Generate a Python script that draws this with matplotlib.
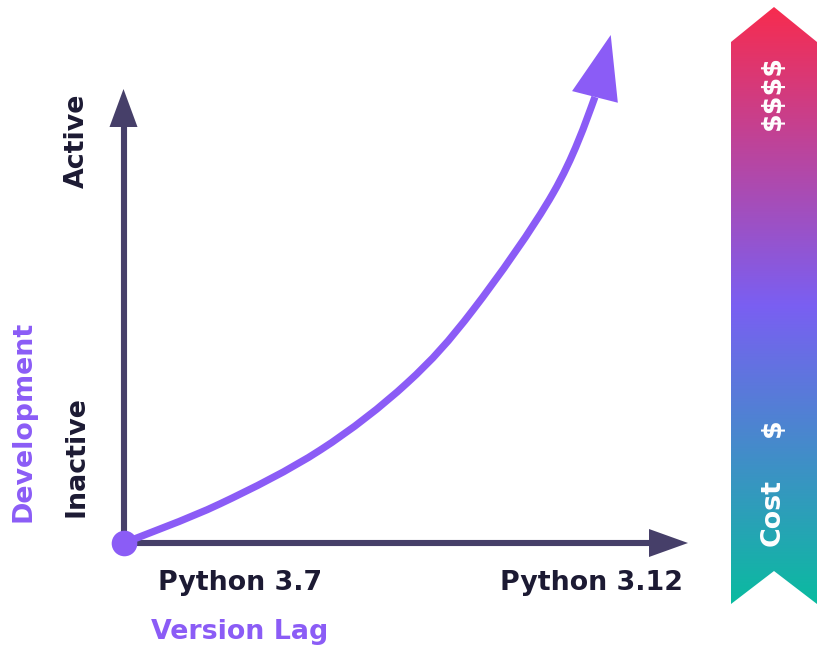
import numpy as np
import matplotlib
matplotlib.use("Agg")
import matplotlib.pyplot as plt
from matplotlib.patches import Polygon, PathPatch
from matplotlib.path import Path
from matplotlib.colors import LinearSegmentedColormap

# ---- data (chart units: x 0..100 along version lag, y 0..100 development) ----
lag_x = [0, 17.0, 34.8, 50.2, 61.9, 76.1, 83.5]
dev_y = [0, 7.7, 18.3, 31.5, 45.9, 68.9, 87.8]
curve_tip = (86.3, 100.0)
x_ticks = ["Python 3.7", "Python 3.12"]
y_ticks = ["Inactive", "Active"]
cost_labels = ["$$$$", "$", "Cost"]

W, H = 817, 649
AXIS = "#463f69"
INK = "#1c1a33"
PURPLE = "#8b5cf6"
FONT = "DejaVu Sans"
FS = 19.4


def smooth_path(xs, ys, end_dir=None):
    """Catmull-Rom through the points, drawn as cubic Bezier segments."""
    p = np.column_stack([xs, ys]).astype(float)
    pts = [p[0]]
    codes = [Path.MOVETO]
    for i in range(len(p) - 1):
        p0 = p[i - 1] if i > 0 else p[i]
        if i + 2 < len(p):
            p3 = p[i + 2]
        else:
            p3 = np.asarray(end_dir, float) if end_dir is not None else p[i + 1]
        c1 = p[i] + (p[i + 1] - p0) / 6
        c2 = p[i + 1] - (p3 - p[i]) / 6
        pts += [c1, c2, p[i + 1]]
        codes += [Path.CURVE4] * 3
    return Path(np.array(pts), codes)


fig = plt.figure(figsize=(W / 100, H / 100), dpi=100)

# background axes in pixel coords for decorations
bg = fig.add_axes([0, 0, 1, 1])
bg.set_xlim(0, W); bg.set_ylim(H, 0); bg.axis("off")

# axis arrows
bg.plot([124, 124], [543, 125], color=AXIS, lw=4.4, solid_capstyle="butt")
bg.plot([124, 651], [543, 543], color=AXIS, lw=4.4, solid_capstyle="butt")
bg.add_patch(Polygon([(123.5, 89), (109.5, 127), (137.5, 127)], closed=True, color=AXIS, lw=0))
bg.add_patch(Polygon([(688, 543), (649, 529), (649, 557)], closed=True, color=AXIS, lw=0))

# axis labels
tk = dict(fontsize=FS, fontweight="bold", color=INK, family=FONT)
bg.text(240, 583, x_ticks[0], ha="center", va="center", **tk)
bg.text(592, 583, x_ticks[1], ha="center", va="center", **tk)
bg.text(77, 457, y_ticks[0], ha="center", va="center", rotation=90, **tk)
bg.text(77, 141, y_ticks[1], ha="center", va="center", rotation=90, **tk)
bg.text(240, 632, "Version Lag", ha="center", va="center", fontsize=FS,
        fontweight="bold", color=PURPLE, family=FONT)
bg.text(24, 421, "Development", ha="center", va="center", rotation=90, fontsize=FS,
        fontweight="bold", color=PURPLE, family=FONT)

# cost banner with vertical gradient
banner = Polygon([(731, 42), (774, 7), (817, 42), (817, 604), (774, 571), (731, 604)],
                 closed=True, facecolor="none", edgecolor="none")
bg.add_patch(banner)
cmap = LinearSegmentedColormap.from_list("cost", ["#f72c4f", "#7a5ff2", "#0abba0"])
grad = np.linspace(0, 1, 256).reshape(-1, 1)
im = bg.imshow(grad, cmap=cmap, extent=(731, 817, 604, 7), aspect="auto",
               origin="upper", interpolation="bilinear")
im.set_clip_path(banner)
bg.set_xlim(0, W); bg.set_ylim(H, 0)

ck = dict(fontsize=FS, fontweight="bold", color="white", family=FONT,
          ha="center", va="center", rotation=90, parse_math=False)
bg.text(773, 92, cost_labels[0], **ck)
bg.text(773, 428, cost_labels[1], **ck)
bg.text(773, 513, cost_labels[2], **ck)

# chart axes: origin at the corner of the axis arrows
ax = fig.add_axes([124 / W, (H - 543) / H, 564 / W, 508 / H])
ax.set_xlim(0, 100); ax.set_ylim(0, 100)
ax.patch.set_visible(False)
ax.axis("off")

ax.add_patch(PathPatch(smooth_path(lag_x, dev_y, end_dir=curve_tip), facecolor="none",
                       edgecolor=PURPLE, lw=5.2, capstyle="butt", joinstyle="round",
                       clip_on=False, zorder=3))
ax.annotate("", xy=curve_tip, xytext=(lag_x[-1], dev_y[-1]),
            arrowprops=dict(arrowstyle="-|>,head_length=46,head_width=17",
                            mutation_scale=1, color=PURPLE, lw=0,
                            shrinkA=0, shrinkB=0),
            annotation_clip=False, zorder=3)
ax.scatter([lag_x[0]], [dev_y[0]], s=340, color=PURPLE, zorder=4, clip_on=False,
           linewidths=0)

fig.savefig("out.png", dpi=100)
